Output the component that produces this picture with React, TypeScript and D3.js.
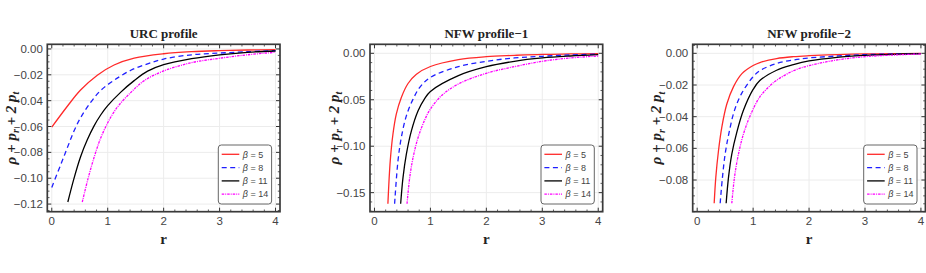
import * as d3 from 'd3'

type Pt = [number, number]

// β values shared by all three panels
const betas = [5, 8, 11, 14]

// URC profile
const urcB5: Pt[] = [[0, -0.0605], [0.275, -0.0445], [0.515, -0.0318], [0.814, -0.0203], [1.114, -0.0124], [1.473, -0.0071], [2.0, -0.0037], [2.5, -0.0021], [3, -0.0013], [3.5, -0.0008], [4, -0.0005]]
const urcB8: Pt[] = [[0, -0.1071], [0.156, -0.09], [0.275, -0.0768], [0.395, -0.0637], [0.515, -0.0532], [0.695, -0.0413], [0.874, -0.0321], [1.114, -0.0242], [1.413, -0.0165], [1.713, -0.0115], [2.0, -0.0078], [2.5, -0.0045], [3, -0.0032], [3.5, -0.0021], [4, -0.0013]]
const urcB11: Pt[] = [[0.287, -0.1184], [0.395, -0.1005], [0.515, -0.0834], [0.635, -0.0703], [0.754, -0.0597], [0.874, -0.0511], [1.0, -0.0439], [1.234, -0.0334], [1.473, -0.0245], [1.713, -0.0172], [2.0, -0.0122], [2.5, -0.0075], [3, -0.0045], [3.5, -0.0026], [4, -0.0016]]
const urcB14: Pt[] = [[0.545, -0.1184], [0.647, -0.1005], [0.76, -0.0834], [0.862, -0.0703], [0.97, -0.0597], [1.078, -0.0511], [1.192, -0.0439], [1.419, -0.0334], [1.653, -0.0245], [2.0, -0.017], [2.5, -0.0106], [3, -0.0072], [3.5, -0.0045], [4, -0.0026]]

// NFW profile-1
const nfw1B5: Pt[] = [[0.24, -0.162], [0.282, -0.1158], [0.33, -0.0871], [0.39, -0.0655], [0.48, -0.0475], [0.6, -0.0325], [0.75, -0.0225], [1.0, -0.0142], [1.5, -0.0068], [2.0, -0.0036], [2.5, -0.0022], [3, -0.0011], [3.5, -0.0007], [4, -0.0004]]
const nfw1B8: Pt[] = [[0.36, -0.162], [0.42, -0.1158], [0.48, -0.0906], [0.57, -0.0673], [0.69, -0.0493], [0.81, -0.0367], [1.0, -0.0259], [1.5, -0.0144], [2.0, -0.0086], [2.5, -0.005], [3, -0.0032], [3.5, -0.0018], [4, -0.0008]]
const nfw1B11: Pt[] = [[0.468, -0.162], [0.51, -0.1338], [0.57, -0.1086], [0.66, -0.0835], [0.78, -0.0619], [0.9, -0.0485], [1.0, -0.041], [1.5, -0.024], [2.0, -0.0144], [2.5, -0.0086], [3, -0.005], [3.5, -0.0029], [4, -0.0014]]
const nfw1B14: Pt[] = [[0.582, -0.162], [0.63, -0.1338], [0.69, -0.1122], [0.78, -0.0906], [0.9, -0.0715], [1.0, -0.06], [1.2, -0.0455], [1.5, -0.033], [2.0, -0.0215], [2.5, -0.0144], [3, -0.0086], [3.5, -0.005], [4, -0.0029]]

// NFW profile-2
const nfw2B5: Pt[] = [[0.304, -0.0947], [0.333, -0.0783], [0.381, -0.0615], [0.44, -0.0467], [0.53, -0.032], [0.65, -0.021], [0.8, -0.0128], [1.0, -0.0077], [1.12, -0.0058], [1.42, -0.0033], [1.72, -0.0021], [2.0, -0.0015], [2.5, -0.0008], [3, -0.0004], [3.5, -0.0002], [4, -0.0001]]
const nfw2B8: Pt[] = [[0.411, -0.0947], [0.452, -0.0783], [0.5, -0.0636], [0.571, -0.0499], [0.667, -0.036], [0.8, -0.025], [1.0, -0.0148], [1.12, -0.011], [1.42, -0.0064], [1.72, -0.0042], [2.0, -0.0029], [2.5, -0.0017], [3, -0.0008], [3.5, -0.0004], [4, -0.0002]]
const nfw2B11: Pt[] = [[0.518, -0.0947], [0.56, -0.0783], [0.619, -0.0636], [0.708, -0.0499], [0.827, -0.036], [1.0, -0.0228], [1.12, -0.0172], [1.42, -0.0107], [1.72, -0.0072], [2.0, -0.0048], [2.5, -0.0025], [3, -0.0013], [3.5, -0.0006], [4, -0.0002]]
const nfw2B14: Pt[] = [[0.619, -0.0947], [0.667, -0.0783], [0.738, -0.0636], [0.827, -0.051], [0.946, -0.0395], [1.12, -0.0275], [1.3, -0.0205], [1.42, -0.017], [1.72, -0.011], [2.0, -0.0078], [2.5, -0.0042], [3, -0.0021], [3.5, -0.0011], [4, -0.0004]]

const xTicks = [0, 1, 2, 3, 4]
const urcYTicks = [0, -0.02, -0.04, -0.06, -0.08, -0.1, -0.12]
const nfw1YTicks = [0, -0.05, -0.1, -0.15]
const nfw2YTicks = [0, -0.02, -0.04, -0.06, -0.08]

const seriesStyles = [
  { color: '#ff2a2a', dash: undefined },
  { color: '#1f1fff', dash: '5 3.5' },
  { color: '#000000', dash: undefined },
  { color: '#ff00ff', dash: '2.5 1 1 1' },
]

const panels = [
  { title: 'URC profile', left: 47.3, yDomain: [-0.1259, 0.0036], yTicks: urcYTicks, yMinor: 0.005, series: [urcB5, urcB8, urcB11, urcB14] },
  { title: 'NFW profile\u22121', left: 370, yDomain: [-0.1705, 0.0097], yTicks: nfw1YTicks, yMinor: 0.01, series: [nfw1B5, nfw1B8, nfw1B11, nfw1B14] },
  { title: 'NFW profile\u22122', left: 692.7, yDomain: [-0.1, 0.0057], yTicks: nfw2YTicks, yMinor: 0.005, series: [nfw2B5, nfw2B8, nfw2B11, nfw2B14] },
]

const frameW = 232.7
const top = 44.3
const bottom = 211.7
const tickFont = '"Liberation Sans Narrow", "Liberation Sans", Arial, sans-serif'
const legendFont = '"Liberation Sans", Arial, sans-serif'
const serif = '"Liberation Serif", "Times New Roman", serif'

function fmt(v: number) {
  const s = Math.abs(v).toFixed(2)
  return v < 0 ? '\u2212' + s : s
}

function Panel({ p }: { p: (typeof panels)[number] }) {
  const left = p.left
  const right = left + frameW
  const x = d3.scaleLinear().domain([-0.08, 4.08]).range([left, right])
  const y = d3.scaleLinear().domain(p.yDomain).range([bottom, top])
  const line = d3
    .line<Pt>()
    .x(d => x(d[0]))
    .y(d => y(d[1]))
    .curve(d3.curveCatmullRom.alpha(0.5))

  const xMinor = d3.range(0, 4.001, 0.2).filter(v => Math.abs(v - Math.round(v)) > 1e-6)
  const [y0, y1] = p.yDomain
  const yMinor = d3
    .range(Math.ceil(y0 / p.yMinor) * p.yMinor, y1, p.yMinor)
    .filter(v => !p.yTicks.some(t => Math.abs(t - v) < 1e-6))

  const legL = right - 61.7
  const legT = bottom - 66.7
  const cx = (left + right) / 2
  const clipId = `clip-${Math.round(left)}`

  return (
    <g>
      <defs>
        <clipPath id={clipId}>
          <rect x={left} y={top} width={frameW} height={bottom - top} />
        </clipPath>
      </defs>
      <rect x={left} y={top} width={frameW} height={bottom - top} fill="#fff" />
      {/* grid */}
      {xTicks.map(t => (
        <line key={`gx${t}`} x1={x(t)} x2={x(t)} y1={top} y2={bottom} stroke="#ececec" strokeWidth={1} />
      ))}
      {p.yTicks.map(t => (
        <line key={`gy${t}`} x1={left} x2={right} y1={y(t)} y2={y(t)} stroke="#ececec" strokeWidth={1} />
      ))}

      <g clipPath={`url(#${clipId})`}>
        {p.series.map((s, i) => (
          <path
            key={i}
            d={line(s) ?? ''}
            fill="none"
            stroke={seriesStyles[i].color}
            strokeWidth={1.3}
            strokeDasharray={seriesStyles[i].dash}
          />
        ))}
      </g>

      {/* ticks on all four sides */}
      {xTicks.map(t => (
        <g key={`tx${t}`} stroke="#333" strokeWidth={1}>
          <line x1={x(t)} x2={x(t)} y1={bottom} y2={bottom - 4} />
          <line x1={x(t)} x2={x(t)} y1={top} y2={top + 4} />
        </g>
      ))}
      {xMinor.map(t => (
        <g key={`mx${t}`} stroke="#333" strokeWidth={0.8}>
          <line x1={x(t)} x2={x(t)} y1={bottom} y2={bottom - 2.2} />
          <line x1={x(t)} x2={x(t)} y1={top} y2={top + 2.2} />
        </g>
      ))}
      {p.yTicks.map(t => (
        <g key={`ty${t}`} stroke="#333" strokeWidth={1}>
          <line x1={left} x2={left + 4} y1={y(t)} y2={y(t)} />
          <line x1={right} x2={right - 4} y1={y(t)} y2={y(t)} />
        </g>
      ))}
      {yMinor.map(t => (
        <g key={`my${t}`} stroke="#333" strokeWidth={0.8}>
          <line x1={left} x2={left + 2.2} y1={y(t)} y2={y(t)} />
          <line x1={right} x2={right - 2.2} y1={y(t)} y2={y(t)} />
        </g>
      ))}

      <rect x={left} y={top} width={frameW} height={bottom - top} fill="none" stroke="#3a3a3a" strokeWidth={1.7} />

      {/* tick labels */}
      {xTicks.map(t => (
        <text key={`lx${t}`} x={x(t)} y={224.5} textAnchor="middle" fontFamily={tickFont} fontSize={11.5} fill="#444">
          {t}
        </text>
      ))}
      {p.yTicks.map(t => (
        <text key={`ly${t}`} x={left - 4.5} y={y(t) + 4} textAnchor="end" fontFamily={tickFont} fontSize={11.5} fill="#444">
          {fmt(t)}
        </text>
      ))}

      {/* title and axis labels */}
      <text x={cx} y={37.5} textAnchor="middle" fontFamily={serif} fontWeight="bold" fontSize={13} fill="#222">
        {p.title}
      </text>
      <text x={cx} y={243.5} textAnchor="middle" fontFamily={serif} fontWeight="bold" fontSize={15} fill="#222">
        r
      </text>
      <text
        transform={`translate(${left - 31.5},${(top + bottom) / 2}) rotate(-90)`}
        textAnchor="middle"
        fontFamily={serif}
        fontWeight="bold"
        fontStyle="italic"
        fontSize={15}
        fill="#222"
      >
        <tspan>{'\u03c1 + p'}</tspan>
        <tspan dy={3.5} fontSize={10}>r</tspan>
        <tspan dy={-3.5}>{' + 2 p'}</tspan>
        <tspan dy={3.5} fontSize={10}>t</tspan>
      </text>

      {/* legend */}
      <rect x={legL} y={legT} width={53.3} height={59} rx={3} fill="#fff" stroke="#666" strokeWidth={1} />
      {betas.map((b, i) => {
        const ly = legT + 9.3 + i * 13.3
        return (
          <g key={`lg${b}`}>
            <line
              x1={legL + 3.4}
              x2={legL + 21}
              y1={ly}
              y2={ly}
              stroke={seriesStyles[i].color}
              strokeWidth={1.3}
              strokeDasharray={seriesStyles[i].dash}
            />
            <text x={legL + 24.5} y={ly + 3.2} fontFamily={legendFont} fontSize={9} fill="#444">
              <tspan fontStyle="italic">{'\u03b2'}</tspan>
              {` = ${b}`}
            </text>
          </g>
        )
      })}
    </g>
  )
}

export default function App() {
  return (
    <svg
      width={926}
      height={273}
      viewBox="0 0 926 273"
      style={{ position: 'absolute', left: 0, top: 0, background: '#fff' }}
    >
      <rect width={926} height={273} fill="#fff" />
      {panels.map(p => (
        <Panel key={p.title} p={p} />
      ))}
    </svg>
  )
}
